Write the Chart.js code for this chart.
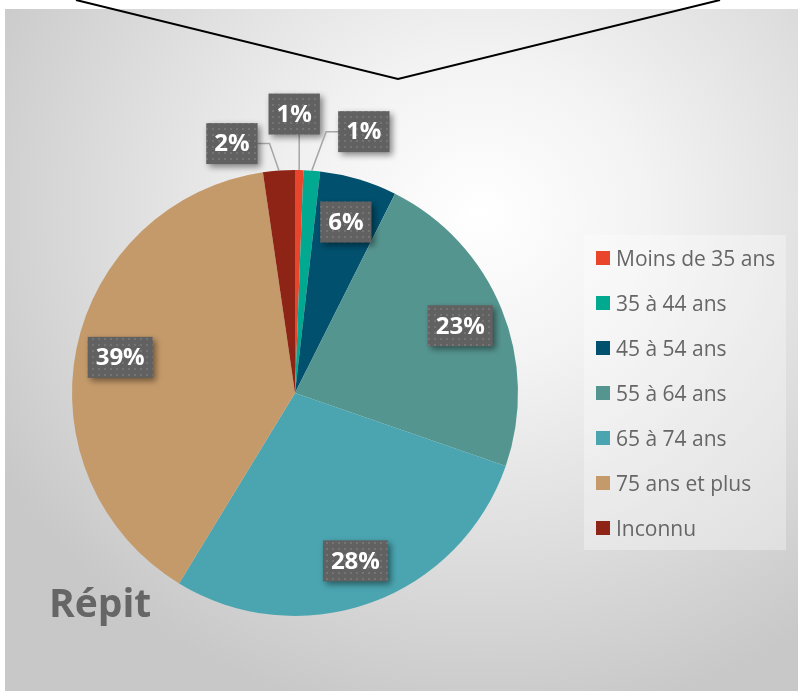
<!DOCTYPE html>
<html lang="fr">
<head>
<meta charset="utf-8">
<script src="https://cdn.jsdelivr.net/npm/chart.js@4.4.1/dist/chart.umd.min.js"></script>
<style>
  html, body { margin: 0; padding: 0; background: #fff; }
  body { width: 798px; height: 691px; position: relative; overflow: hidden; font-family: "Open Sans", sans-serif; }
  #panel {
    position: absolute; left: 5px; top: 9px; width: 793px; height: 682px;
    background: radial-gradient(ellipse 70% 75% at 60% 30%, #ffffff 0%, #f3f3f3 30%, #dedede 65%, #c8c8c8 100%);
  }
  #chart { position: absolute; left: 0; top: 0; }
  #legend {
    position: absolute; left: 584px; top: 235px; width: 202px; height: 315px;
    background: rgba(255, 255, 255, 0.32);
  }
  .item { position: absolute; left: 12px; height: 20px; display: flex; align-items: center; color: #666; font-size: 21px; white-space: nowrap; }
  .item span.sw { width: 14px; height: 14px; margin-right: 6px; flex: none; }
  #title { position: absolute; left: 49px; top: 575px; font: bold 39px "Open Sans", sans-serif; color: #666; }
</style>
</head>
<body>
<div id="panel"></div>
<canvas id="chart" width="798" height="691"></canvas>
<div id="legend"></div>
<div id="title">Répit</div>
<script>
const categories = ['Moins de 35 ans', '35 à 44 ans', '45 à 54 ans', '55 à 64 ans', '65 à 74 ans', '75 ans et plus', 'Inconnu'];
const shares = [0.6, 1.2, 5.6, 22.9, 28.4, 39.0, 2.3];
const colors = ['#e8452c', '#00a98f', '#00506e', '#559590', '#4aa5b0', '#c49a6a', '#8e2415'];
// box centre offset from the slice edge for labels placed outside the pie
const outsideLabels = [[-5, -56], [52, -39], null, null, null, null, [-47, -27]];

const legend = document.getElementById('legend');
categories.forEach((name, i) => {
    const row = document.createElement('div');
    row.className = 'item';
    row.style.top = (13 + i * 45) + 'px';
    row.innerHTML = '<span class="sw" style="background:' + colors[i] + '"></span>' + name;
    legend.appendChild(row);
});

function dotPattern(ctx) {
    const c = document.createElement('canvas');
    c.width = 6; c.height = 6;
    const p = c.getContext('2d');
    p.fillStyle = '#616161';
    p.fillRect(0, 0, 6, 6);
    p.fillStyle = '#747474';
    p.fillRect(2, 2, 2, 2);
    return ctx.createPattern(c, 'repeat');
}

const boxLabels = {
    id: 'boxLabels',
    afterDatasetsDraw(chart) {
        const ctx = chart.ctx;
        const meta = chart.getDatasetMeta(0);
        const total = shares.reduce((a, b) => a + b, 0);
        const pattern = dotPattern(ctx);
        ctx.save();
        ctx.font = 'bold 24px "Open Sans", sans-serif';
        meta.data.forEach((arc, i) => {
            const p = arc.getProps(['x', 'y', 'startAngle', 'endAngle', 'outerRadius'], true);
            const mid = (p.startAngle + p.endAngle) / 2;
            const text = Math.round(shares[i] / total * 100) + '%';
            const w = ctx.measureText(text).width + 16;
            const h = 41;
            let cx, cy;
            const off = outsideLabels[i];
            if (off) {
                const ex = p.x + Math.cos(mid) * p.outerRadius;
                const ey = p.y + Math.sin(mid) * p.outerRadius;
                cx = ex + off[0];
                cy = ey + off[1];
                ctx.strokeStyle = '#a5a5a5';
                ctx.lineWidth = 1.5;
                ctx.beginPath();
                if (Math.abs(off[0]) > w / 2) {
                    const side = off[0] > 0 ? cx - w / 2 : cx + w / 2;
                    const dir = off[0] > 0 ? -1 : 1;
                    ctx.moveTo(side, cy);
                    ctx.lineTo(side + dir * 12, cy);
                    ctx.lineTo(ex, ey);
                } else {
                    ctx.moveTo(ex, cy + h / 2);
                    ctx.lineTo(ex, ey);
                }
                ctx.stroke();
            } else {
                cx = p.x + Math.cos(mid) * p.outerRadius * 0.8;
                cy = p.y + Math.sin(mid) * p.outerRadius * 0.8;
            }
            ctx.save();
            ctx.shadowColor = 'rgba(0, 0, 0, 0.45)';
            ctx.shadowBlur = 6;
            ctx.shadowOffsetX = 3;
            ctx.shadowOffsetY = 3;
            ctx.fillStyle = pattern;
            ctx.fillRect(cx - w / 2, cy - h / 2, w, h);
            ctx.restore();
            ctx.fillStyle = '#ffffff';
            ctx.textAlign = 'center';
            ctx.textBaseline = 'middle';
            ctx.fillText(text, cx, cy + 1);
        });
        ctx.restore();
    },
    afterDraw(chart) {
        const ctx = chart.ctx;
        ctx.save();
        ctx.strokeStyle = '#000';
        ctx.lineWidth = 2;
        ctx.beginPath();
        ctx.moveTo(76, 0);
        ctx.lineTo(398, 79);
        ctx.lineTo(720, 0);
        ctx.stroke();
        ctx.restore();
    }
};

new Chart(document.getElementById('chart'), {
    type: 'pie',
    data: {
        labels: categories,
        datasets: [{ data: shares, backgroundColor: colors, borderWidth: 0 }]
    },
    options: {
        responsive: false,
        animation: false,
        layout: { padding: { left: 72, top: 170, right: 280, bottom: 75 } },
        plugins: { legend: { display: false }, tooltip: { enabled: false } }
    },
    plugins: [boxLabels]
});
</script>
</body>
</html>
